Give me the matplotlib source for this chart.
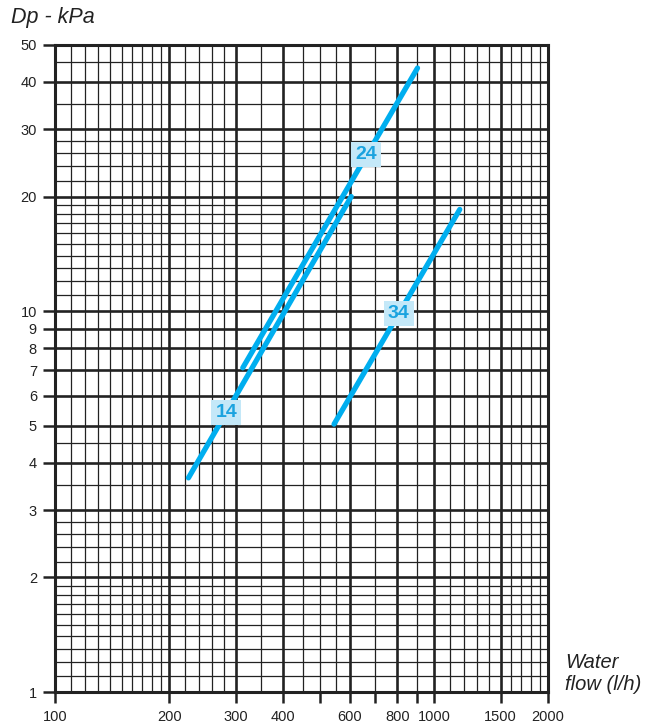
#Dp - water flow chart
import numpy as np
import matplotlib
matplotlib.use('Agg')
import matplotlib.pyplot as plt
from matplotlib.ticker import FixedLocator, NullLocator

plt.rcParams['font.family'] = ['Liberation Sans', 'DejaVu Sans']

#data
flow_14 = [225, 605]
dp_14 = [3.65, 20.0]
flow_24 = [313, 905]
dp_24 = [7.1, 43.5]
flow_34 = [545, 1170]
dp_34 = [5.05, 18.5]
labels = ['14', '24', '34']
label_flow = [283, 662, 808]
label_dp = [5.43, 25.8, 9.88]

xticks = [100, 200, 300, 400, 500, 600, 700, 800, 900, 1000, 1500, 2000]
xticklabels = ['100', '200', '300', '400', '', '600', '', '800', '', '1000', '1500', '2000']
yticks = [1, 2, 3, 4, 5, 6, 7, 8, 9, 10, 20, 30, 40, 50]
yticklabels = ['1', '2', '3', '4', '5', '6', '7', '8', '9', '10', '20', '30', '40', '50']

#grid lines
xgrid = list(np.arange(110, 200, 10)) + [220, 240, 260, 280, 350, 450, 500, 550, 700, 900] \
    + [1100, 1200, 1300, 1400, 1600, 1700, 1800, 1900]
xmajor = [200, 300, 400, 600, 800, 1000, 1500]
ygrid = list(np.round(np.arange(1.1, 2.0, 0.1), 1)) + [2.2, 2.4, 2.6, 2.8, 3.5, 4.5] \
    + list(range(11, 20)) + [22, 24, 26, 28, 35, 45]
ymajor = [2, 3, 4, 5, 6, 7, 8, 9, 10, 20, 30, 40]

blue = '#00aeef'
gridc = '#222222'

fig = plt.figure(figsize=(6.57, 7.26), dpi=100)
ax = fig.add_axes([55/657, 1-692/726, 493/657, 647/726])
ax.set_xscale('log')
ax.set_yscale('log')
ax.set_xlim(100, 2000)
ax.set_ylim(1, 50)

for v in xgrid:
    ax.axvline(v, color=gridc, lw=0.9, zorder=1)
for v in ygrid:
    ax.axhline(v, color=gridc, lw=0.9, zorder=1)
for v in xmajor:
    ax.axvline(v, color=gridc, lw=1.9, zorder=1)
for v in ymajor:
    ax.axhline(v, color=gridc, lw=1.9, zorder=1)

for fl, dp in [(flow_14, dp_14), (flow_24, dp_24), (flow_34, dp_34)]:
    ax.plot(fl, dp, color=blue, lw=3.8, solid_capstyle='round', zorder=3)

for t, fx, fy in zip(labels, label_flow, label_dp):
    ax.text(fx, fy, t, color='#1ba3df', fontsize=14, fontweight='bold',
            ha='center', va='center', zorder=4,
            bbox=dict(boxstyle='square,pad=0.2', fc='#c4e8f8', ec='none'))

for s in ax.spines.values():
    s.set_linewidth(2.2)
    s.set_color(gridc)

ax.xaxis.set_major_locator(FixedLocator(xticks))
ax.xaxis.set_minor_locator(NullLocator())
ax.set_xticklabels(xticklabels)
ax.yaxis.set_major_locator(FixedLocator(yticks))
ax.yaxis.set_minor_locator(NullLocator())
ax.set_yticklabels(yticklabels)
ax.tick_params(axis='x', length=8, width=1.8, color=gridc, pad=5, labelsize=10.5, labelcolor='#222222')
ax.tick_params(axis='y', length=9, width=1.8, color=gridc, pad=4, labelsize=10.5, labelcolor='#222222')

fig.text(11/657, 1-17/726, 'Dp - kPa', fontsize=15.5, style='italic', color='#222222', va='center', ha='left')
fig.text(565/657, 1-674/726, 'Water\nflow (l/h)', fontsize=14.5, style='italic', color='#222222',
         va='center', ha='left', linespacing=1.2)

plt.savefig('out.png', dpi=100)
